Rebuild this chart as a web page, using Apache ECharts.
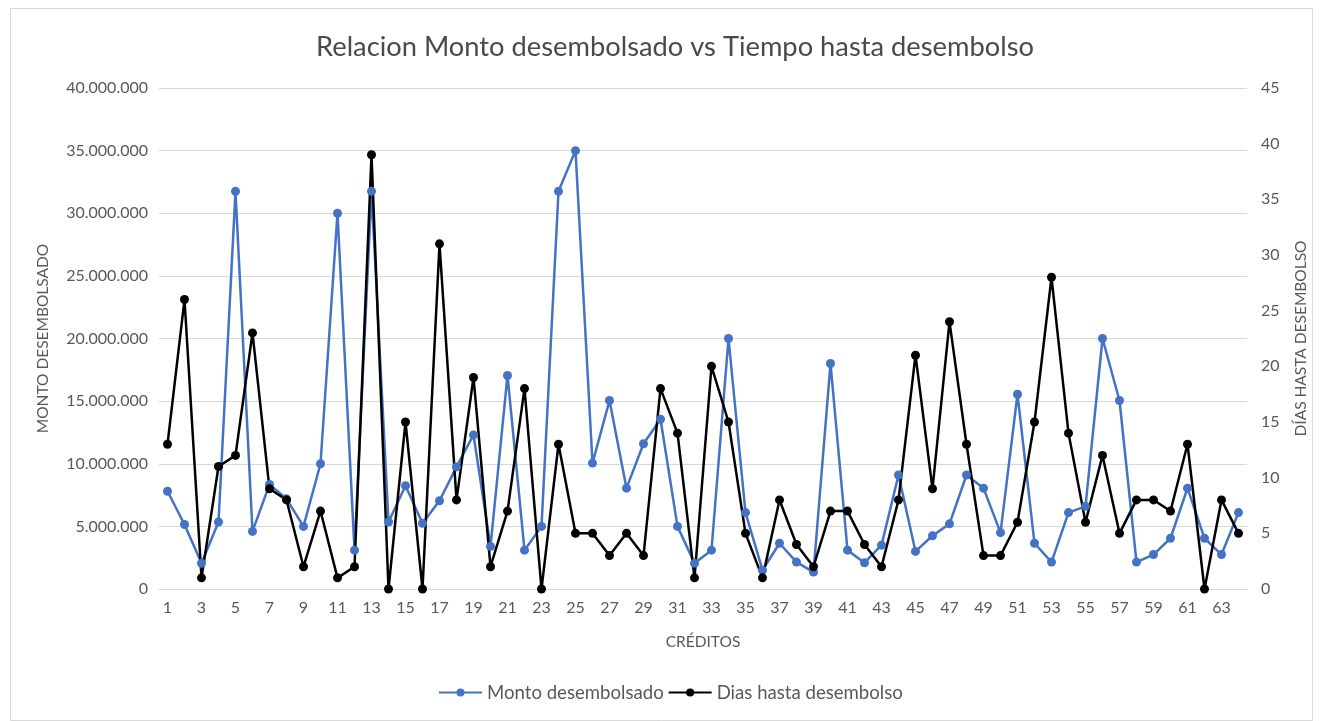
<!DOCTYPE html>
<html>
<head>
<meta charset="utf-8">
<script src="https://cdn.jsdelivr.net/npm/echarts@6/dist/echarts.min.js"></script>
<style>
  html, body { margin: 0; padding: 0; background: #ffffff; }
  #chart { width: 1323px; height: 721px; }
</style>
</head>
<body>
<div id="chart"></div>
<script>
// Credit numbers 1..64
const creditos = Array.from({ length: 64 }, (_, i) => String(i + 1));

// Amount disbursed per credit
const montoDesembolsado = [
  7800000, 5150000, 2050000, 5350000, 31750000, 4600000, 8350000, 7200000,
  5000000, 10000000, 30000000, 3100000, 31750000, 5350000, 8250000, 5250000,
  7050000, 9750000, 12300000, 3400000, 17050000, 3100000, 5000000, 31750000,
  35000000, 10050000, 15050000, 8050000, 11600000, 13550000, 5000000, 2050000,
  3100000, 20000000, 6100000, 1500000, 3650000, 2150000, 1350000, 18000000,
  3100000, 2100000, 3500000, 9100000, 3000000, 4250000, 5200000, 9100000,
  8050000, 4500000, 15550000, 3650000, 2150000, 6100000, 6600000, 20000000,
  15050000, 2150000, 2750000, 4050000, 8050000, 4050000, 2750000, 6100000
];

// Days until disbursement per credit
const diasHastaDesembolso = [
  13, 26, 1, 11, 12, 23, 9, 8, 2, 7, 1, 2, 39, 0, 15, 0,
  31, 8, 19, 2, 7, 18, 0, 13, 5, 5, 3, 5, 3, 18, 14, 1,
  20, 15, 5, 1, 8, 4, 2, 7, 7, 4, 2, 8, 21, 9, 24, 13,
  3, 3, 6, 15, 28, 14, 6, 12, 5, 8, 8, 7, 13, 0, 8, 5
];

const FONT = 'Lato, "Open Sans", "DejaVu Sans", sans-serif';
const TEXT = '#595959';
const GRID = '#d9d9d9';

// Thousands separated with dots: 40000000 -> 40.000.000
function puntos(n) {
  return String(n).replace(/\B(?=(\d{3})+(?!\d))/g, '.');
}

const chart = echarts.init(document.getElementById('chart'), null, { renderer: 'canvas' });

chart.setOption({
  backgroundColor: '#ffffff',
  animation: false,
  textStyle: { fontFamily: FONT },
  title: {
    text: 'Relacion Monto desembolsado vs Tiempo hasta desembolso',
    left: 311,
    top: 29,
    textStyle: { fontFamily: FONT, fontSize: 27.3, fontWeight: 'normal', color: '#4a4a4a' }
  },
  graphic: [{
    type: 'rect',
    shape: { x: 10.5, y: 8.5, width: 1302, height: 712 },
    style: { fill: 'none', stroke: '#d9d9d9', lineWidth: 1 },
    silent: true
  }],
  legend: {
    bottom: 14,
    left: 433,
    itemWidth: 43,
    itemHeight: 10,
    itemGap: 4,
    textStyle: { fontFamily: FONT, fontSize: 18.6, color: TEXT },
    data: ['Monto desembolsado', 'Dias hasta desembolso']
  },
  grid: { left: 159, right: 76, top: 88, bottom: 132 },
  xAxis: {
    type: 'category',
    data: creditos,
    boundaryGap: true,
    name: 'CRÉDITOS',
    nameLocation: 'middle',
    nameGap: 45,
    nameTextStyle: { fontFamily: FONT, fontSize: 15.5, color: TEXT },
    axisLine: { lineStyle: { color: GRID, width: 1 } },
    axisTick: { show: false },
    axisLabel: { interval: 1, fontFamily: FONT, fontSize: 16, color: TEXT, margin: 11 }
  },
  yAxis: [{
    type: 'value',
    min: 0,
    max: 40000000,
    interval: 5000000,
    name: 'MONTO DESEMBOLSADO',
    nameLocation: 'middle',
    nameRotate: 90,
    nameGap: 108,
    nameTextStyle: { fontFamily: FONT, fontSize: 15.5, color: TEXT },
    axisLine: { show: false },
    axisTick: { show: false },
    splitLine: { lineStyle: { color: GRID, width: 1 } },
    axisLabel: { fontFamily: FONT, fontSize: 16, color: TEXT, margin: 11, formatter: v => puntos(v) }
  }, {
    type: 'value',
    min: 0,
    max: 45,
    interval: 5,
    position: 'right',
    name: 'DÍAS HASTA DESEMBOLSO',
    nameLocation: 'middle',
    nameRotate: 90,
    nameGap: 46,
    nameTextStyle: { fontFamily: FONT, fontSize: 15.5, color: TEXT },
    axisLine: { show: false },
    axisTick: { show: false },
    splitLine: { show: false },
    axisLabel: { fontFamily: FONT, fontSize: 16, color: TEXT, margin: 14 }
  }],
  series: [{
    name: 'Monto desembolsado',
    type: 'line',
    yAxisIndex: 0,
    data: montoDesembolsado,
    symbol: 'circle',
    symbolSize: 9,
    lineStyle: { color: '#4472c4', width: 2.5 },
    itemStyle: { color: '#4472c4' }
  }, {
    name: 'Dias hasta desembolso',
    type: 'line',
    yAxisIndex: 1,
    data: diasHastaDesembolso,
    symbol: 'circle',
    symbolSize: 9,
    lineStyle: { color: '#000000', width: 2.5 },
    itemStyle: { color: '#000000' }
  }]
});
</script>
</body>
</html>
